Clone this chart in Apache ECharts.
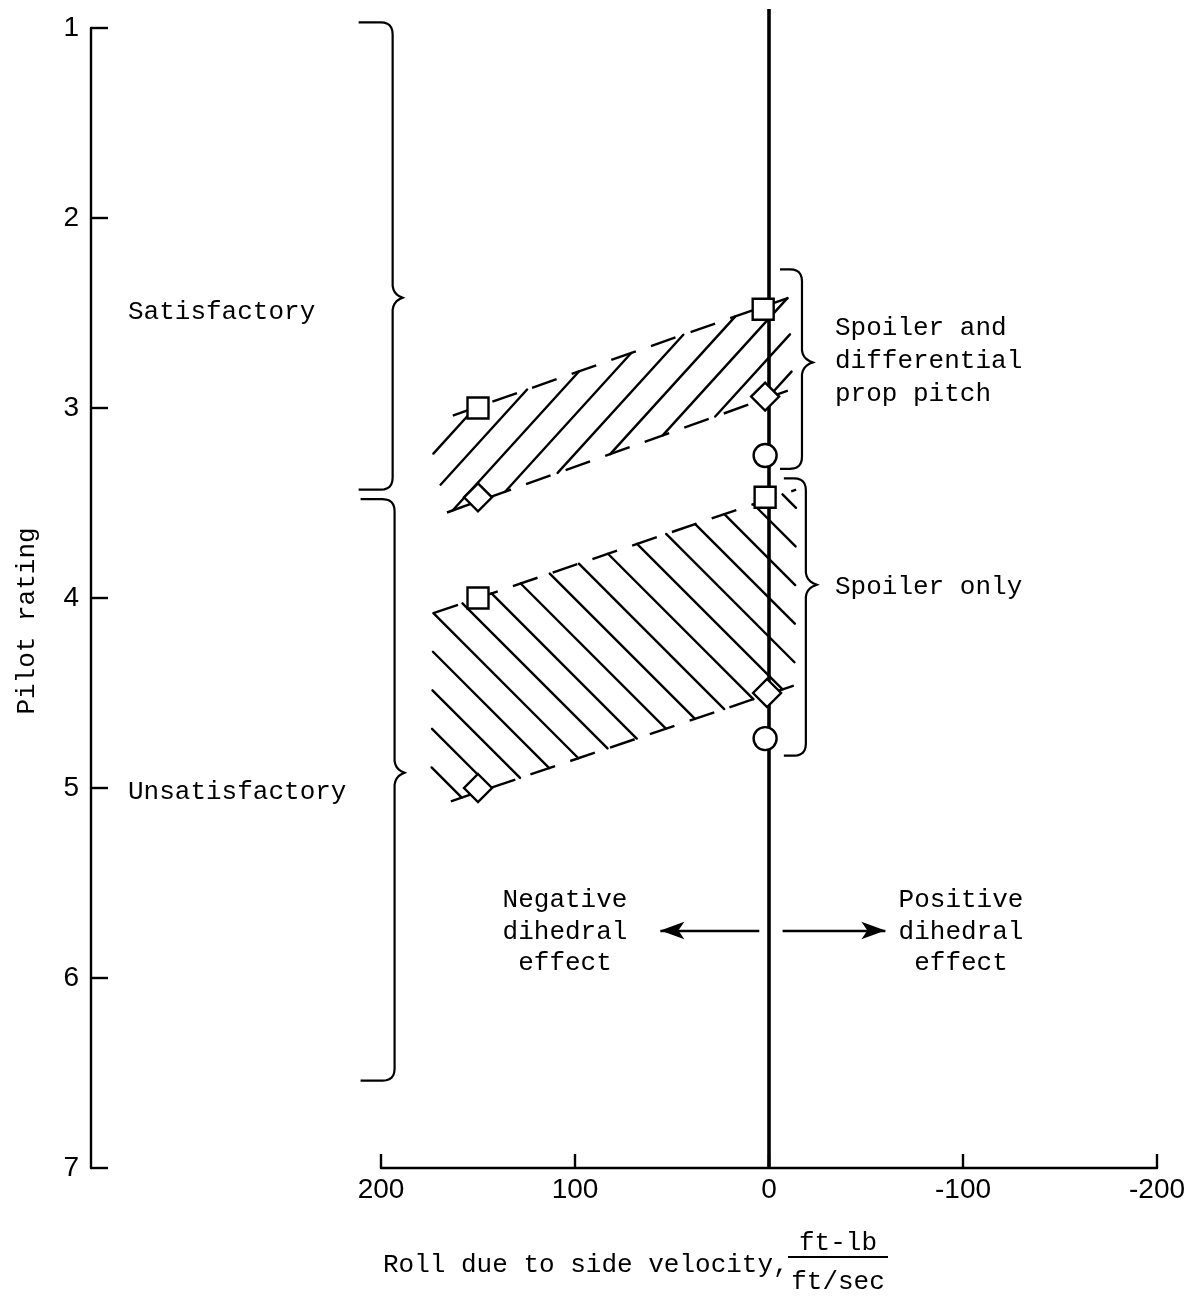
<!DOCTYPE html>
<html><head><meta charset="utf-8">
<script src="https://cdn.jsdelivr.net/npm/echarts@6/dist/echarts.min.js"></script>
<style>html,body{margin:0;padding:0;background:#fff}#c{width:1184px;height:1298px}</style>
</head><body><div id="c"></div>
<script>
// ---- data ----
const ratingTicks = [1, 2, 3, 4, 5, 6, 7];
const rollTicks = [200, 100, 0, -100, -200];
// [roll due to side velocity, pilot rating]
const squares  = [[150, 3.0], [3, 2.48], [150, 4.0], [2, 3.47]];
const diamonds = [[150, 3.47], [2, 2.94], [150, 5.0], [1, 4.5]];
const circles  = [[2, 3.25], [2, 4.74]];
// band outlines (polygon vertices)
const bandSpoilerProp = [[173, 3.24], [163, 3.04], [-10, 2.42], [-12, 2.90], [166, 3.55]];
const bandSpoilerOnly = [[173, 4.08], [-14, 3.43], [-13, 4.46], [164, 5.07], [174, 4.96]];
const zeroLine = [[0, 0.9], [0, 7]];
// braces: [x, rating top, rating bottom, rating of point]
const braces = [[194, 0.97, 3.43, 2.42], [193, 3.48, 6.54, 4.92], [-17, 2.27, 3.32, 2.76], [-19, 3.37, 4.83, 3.93]];
const arrows = [[[5, 5.75], [56, 5.75]], [[-7, 5.75], [-60, 5.75]]];

const MONO = '"Liberation Mono", "DejaVu Sans Mono", monospace';
const SANS = '"Liberation Sans", "DejaVu Sans", sans-serif';
const braceArm = [34, 34, 22, 22];
const bracePoint = [10, 10, 11, 11];

function bandRender(band, m, dc, up, lo) {
  return function (params, api) {
    if (params.dataIndex !== 0) return null;
    const P = band.map(p => api.coord(p));
    const cs = P.map(p => p[1] - m * p[0]);
    const c0 = cs[0], cmin = Math.min(...cs), cmax = Math.max(...cs);
    const children = [];
    const st = {stroke: '#000', lineWidth: 2.4, lineCap: 'round', fill: null};
    for (let k = Math.ceil((cmin - c0) / dc - 1e-6); c0 + k * dc <= cmax + 1e-6; k++) {
      const c = c0 + k * dc;
      const pts = [];
      for (let i = 0; i < P.length; i++) {
        const a = P[i], b = P[(i + 1) % P.length];
        const fa = a[1] - m * a[0] - c, fb = b[1] - m * b[0] - c;
        if ((fa <= 0 && fb >= 0) || (fa >= 0 && fb <= 0)) {
          if (fa === fb) continue;
          const t = fa / (fa - fb);
          pts.push([a[0] + t * (b[0] - a[0]), a[1] + t * (b[1] - a[1])]);
        }
      }
      if (pts.length < 2) continue;
      pts.sort((p, q) => p[0] - q[0]);
      const s = pts[0], e = pts[pts.length - 1];
      if (Math.hypot(e[0] - s[0], e[1] - s[1]) < 4) continue;
      children.push({type: 'line', shape: {x1: s[0], y1: s[1], x2: e[0], y2: e[1]}, style: st});
    }
    [up, lo].forEach(([i, j]) => children.push({
      type: 'line', shape: {x1: P[i][0], y1: P[i][1], x2: P[j][0], y2: P[j][1]},
      style: {stroke: '#000', lineWidth: 2.4, lineDash: [26, 16], fill: null}
    }));
    return {type: 'group', children};
  };
}

function quad(out, p0, c, p1, n) {
  for (let i = 1; i <= n; i++) {
    const t = i / n, u = 1 - t;
    out.push([u * u * p0[0] + 2 * u * t * c[0] + t * t * p1[0], u * u * p0[1] + 2 * u * t * c[1] + t * t * p1[1]]);
  }
}

function braceRender(params, api) {
  const x = api.value(0);
  const T = api.coord([x, api.value(1)]), B = api.coord([x, api.value(2)]), Pt = api.coord([x, api.value(3)]);
  const X = T[0], yT = T[1], yB = B[1], yP = Pt[1];
  const a = braceArm[params.dataIndex], p = bracePoint[params.dataIndex], rr = 12, pk = 12;
  const pts = [[X - a, yT], [X - rr, yT]];
  quad(pts, [X - rr, yT], [X, yT], [X, yT + rr], 6);
  pts.push([X, yP - pk]);
  quad(pts, [X, yP - pk], [X + 1, yP - 3], [X + p, yP], 5);
  quad(pts, [X + p, yP], [X + 1, yP + 3], [X, yP + pk], 5);
  pts.push([X, yB - rr]);
  quad(pts, [X, yB - rr], [X, yB], [X - rr, yB], 6);
  pts.push([X - a, yB]);
  return {type: 'polyline', shape: {points: pts}, style: {stroke: '#000', lineWidth: 2.2, fill: null}};
}

function txt(t, x, y, align, extra) {
  return Object.assign({type: 'text', x, y, silent: true,
    style: {text: t, font: '26px ' + MONO, fill: '#000', textAlign: align || 'left', textVerticalAlign: 'middle'}}, extra || {});
}

const chart = echarts.init(document.getElementById('c'), null, {renderer: 'canvas'});
const markerStyle = {color: '#fff', borderColor: '#000', borderWidth: 2.4, opacity: 1};

chart.setOption({
  animation: false,
  backgroundColor: '#fff',
  grid: {left: 381, right: 27, top: 28, bottom: 130, containLabel: false, outerBoundsMode: 'none'},
  xAxis: {
    type: 'value', inverse: true, min: -200, max: 200, interval: 100,
    axisLine: {onZero: false, lineStyle: {color: '#000', width: 2.4}},
    axisTick: {inside: true, length: 14, lineStyle: {color: '#000', width: 2.4}},
    splitLine: {show: false},
    axisLabel: {fontSize: 28, fontFamily: SANS, color: '#000', margin: 8,
      formatter: v => rollTicks.includes(v) ? String(v) : ''}
  },
  yAxis: {
    type: 'value', inverse: true, min: 1, max: 7, interval: 1, position: 'left', offset: 290,
    axisLine: {onZero: false, lineStyle: {color: '#000', width: 2.4}},
    axisTick: {inside: true, length: 17, lineStyle: {color: '#000', width: 2.4}},
    splitLine: {show: false},
    axisLabel: {fontSize: 28, fontFamily: SANS, color: '#000', margin: 12,
      formatter: v => ratingTicks.includes(v) ? String(v) : ''}
  },
  series: [
    {type: 'custom', coordinateSystem: 'cartesian2d', data: bandSpoilerProp, encode: {x: 0, y: 1}, clip: false, silent: true, z: 2,
      renderItem: bandRender(bandSpoilerProp, -1.1, 39, [1, 2], [4, 3])},
    {type: 'custom', coordinateSystem: 'cartesian2d', data: bandSpoilerOnly, encode: {x: 0, y: 1}, clip: false, silent: true, z: 2,
      renderItem: bandRender(bandSpoilerOnly, 1.0, 39, [0, 1], [3, 2])},
    {type: 'custom', coordinateSystem: 'cartesian2d', data: braces, encode: {x: 0, y: 1}, clip: false, silent: true, z: 2,
      renderItem: braceRender},
    {type: 'line', data: zeroLine, symbol: 'none', clip: false, silent: true, z: 3,
      lineStyle: {color: '#000', width: 3.6},
      markLine: {silent: true, symbol: ['none', 'arrow'], symbolSize: [13, 24], label: {show: false},
        lineStyle: {color: '#000', width: 2.4, type: 'solid'},
        data: arrows.map(a => [{coord: a[0]}, {coord: a[1]}])}},
    {type: 'scatter', data: squares, symbol: 'rect', symbolSize: 21, itemStyle: markerStyle, z: 5, silent: true},
    {type: 'scatter', data: diamonds, symbol: 'diamond', symbolSize: [28, 28], itemStyle: markerStyle, z: 5, silent: true},
    {type: 'scatter', data: circles, symbol: 'circle', symbolSize: 23, itemStyle: markerStyle, z: 5, silent: true}
  ],
  graphic: [
    txt('Pilot rating', 27, 621, 'center', {rotation: Math.PI / 2}),
    txt('Satisfactory', 128, 312),
    txt('Unsatisfactory', 128, 792),
    txt('Spoiler and', 835, 328),
    txt('differential', 835, 361),
    txt('prop pitch', 835, 394),
    txt('Spoiler only', 835, 587),
    txt('Negative', 565, 900, 'center'),
    txt('dihedral', 565, 932, 'center'),
    txt('effect', 565, 963, 'center'),
    txt('Positive', 961, 900, 'center'),
    txt('dihedral', 961, 932, 'center'),
    txt('effect', 961, 963, 'center'),
    txt('Roll due to side velocity,', 383, 1265),
    txt('ft-lb', 838, 1243, 'center'),
    txt('ft/sec', 838, 1282, 'center'),
    {type: 'line', silent: true, shape: {x1: 788, y1: 1257, x2: 888, y2: 1257}, style: {stroke: '#000', lineWidth: 2}}
  ]
});
</script></body></html>
